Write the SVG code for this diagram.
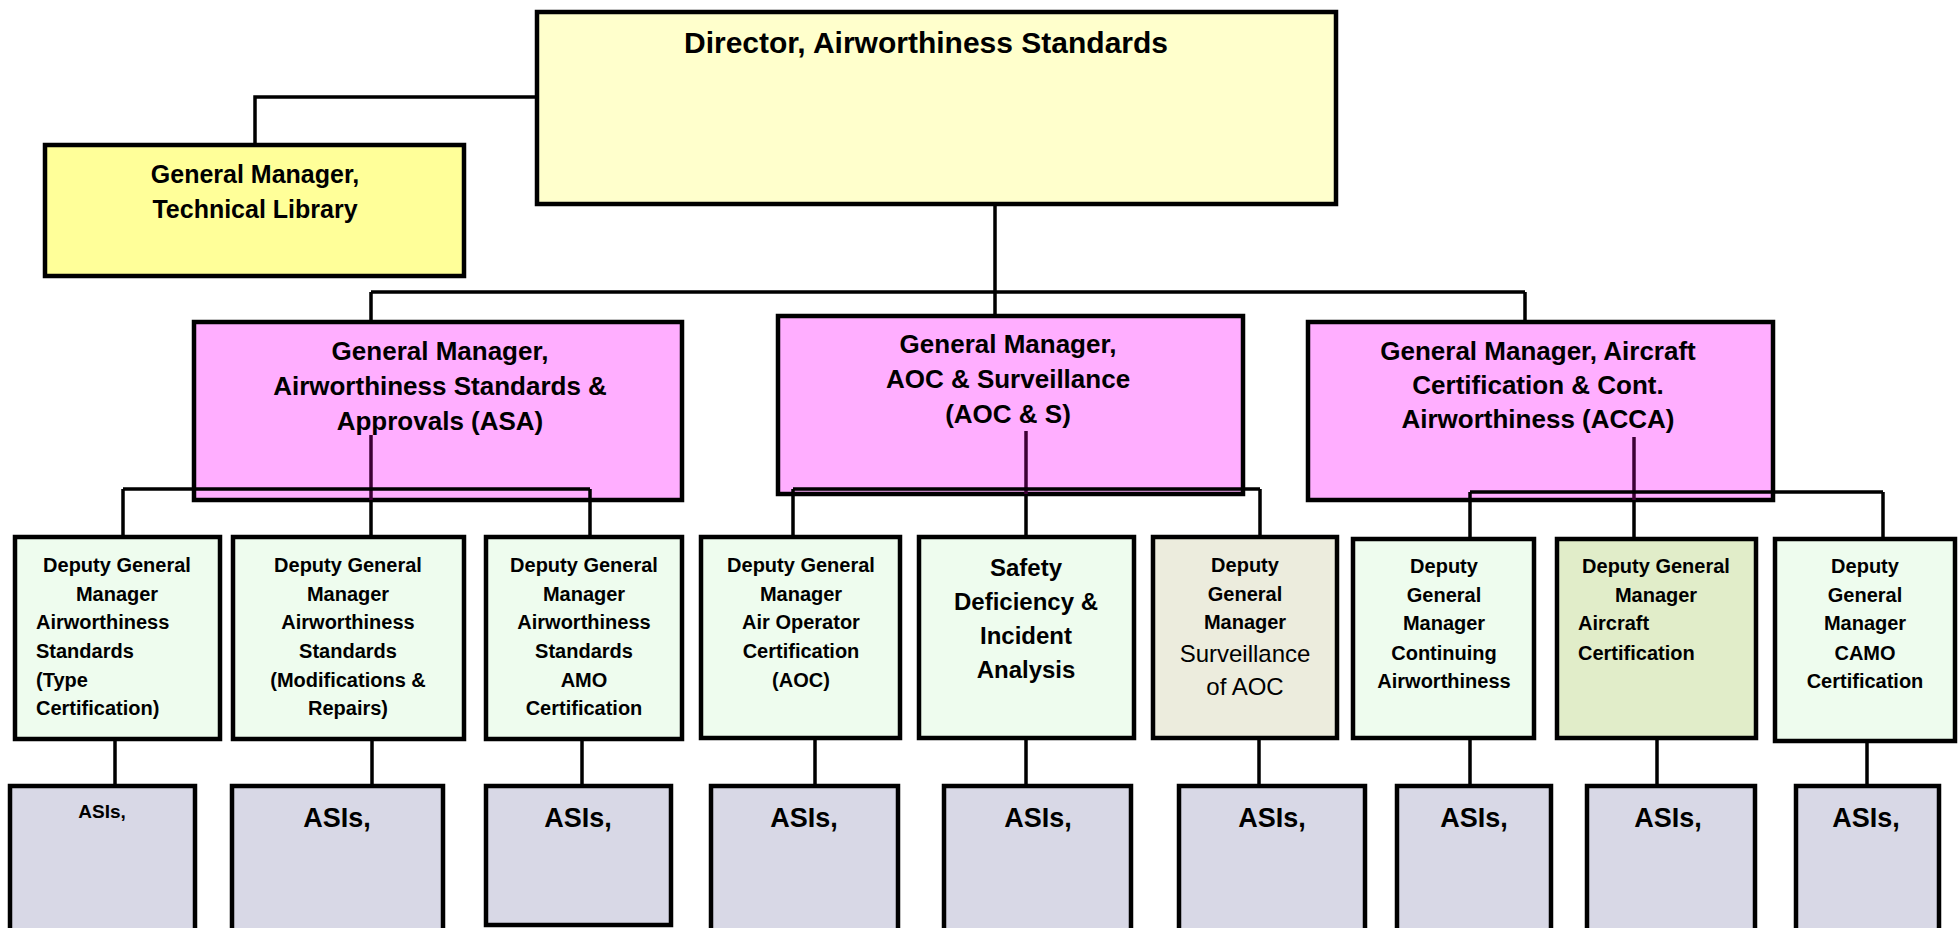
<svg xmlns="http://www.w3.org/2000/svg" width="1960" height="928" viewBox="0 0 1960 928">
<style>
text{font-family:"Liberation Sans",Arial,sans-serif;font-weight:bold;fill:#000;}
.box{stroke:#000;stroke-width:4.5;}
.dir{fill:#FFFFCC;}
.lib{fill:#FFFF99;}
.gm{fill:#FFAEFF;}
.dep{fill:#EEFCEE;}
.dep6{fill:#ECECDD;}
.dep8{fill:#E1EDC9;}
.asi{fill:#D8D8E6;}
.t25{font-size:25px;}
.t26{font-size:26px;}
.t30{font-size:30px;}
.t20{font-size:20px;}
.t24{font-size:24px;}
.t27{font-size:27px;}
.reg{font-weight:normal;font-size:24px;}
.c{text-anchor:middle;}
.ln{fill:none;stroke:#000;stroke-width:3.5;}
.pl{fill:none;stroke:#3C0034;stroke-width:3.5;}
</style>

<g id="director">
<rect class="box dir" x="537" y="12" width="799" height="192"/>
<text class="t30 c" x="926" y="53">Director, Airworthiness Standards</text>
</g>

<g id="tech-library">
<rect class="box lib" x="45" y="145" width="419" height="131"/>
<text class="t25 c" x="255" y="183">General Manager,</text>
<text class="t25 c" x="255" y="218">Technical Library</text>
</g>

<g id="gm-asa">
<rect class="box gm" x="194" y="322" width="488" height="178"/>
<text class="t26 c" x="440" y="360">General Manager,</text>
<text class="t26 c" x="440" y="395">Airworthiness Standards &amp;</text>
<text class="t26 c" x="440" y="430">Approvals (ASA)</text>
</g>

<g id="gm-aoc">
<rect class="box gm" x="778" y="316" width="465" height="178"/>
<text class="t26 c" x="1008" y="353">General Manager,</text>
<text class="t26 c" x="1008" y="388">AOC &amp; Surveillance</text>
<text class="t26 c" x="1008" y="423">(AOC &amp; S)</text>
</g>

<g id="gm-acca">
<rect class="box gm" x="1308" y="322" width="465" height="178"/>
<text class="t26 c" x="1538" y="360">General Manager, Aircraft</text>
<text class="t26 c" x="1538" y="394">Certification &amp; Cont.</text>
<text class="t26 c" x="1538" y="428">Airworthiness (ACCA)</text>
</g>

<g id="dgm-type-cert">
<rect class="box dep" x="15" y="537" width="205" height="202"/>
<text class="t20 c" x="117" y="572">Deputy General</text>
<text class="t20 c" x="117" y="601">Manager</text>
<text class="t20" x="36" y="629">Airworthiness</text>
<text class="t20" x="36" y="658">Standards</text>
<text class="t20" x="36" y="687">(Type</text>
<text class="t20" x="36" y="715">Certification)</text>
</g>

<g id="dgm-mods">
<rect class="box dep" x="233" y="537" width="231" height="202"/>
<text class="t20 c" x="348" y="572">Deputy General</text>
<text class="t20 c" x="348" y="601">Manager</text>
<text class="t20 c" x="348" y="629">Airworthiness</text>
<text class="t20 c" x="348" y="658">Standards</text>
<text class="t20 c" x="348" y="687">(Modifications &amp;</text>
<text class="t20 c" x="348" y="715">Repairs)</text>
</g>

<g id="dgm-amo">
<rect class="box dep" x="486" y="537" width="196" height="202"/>
<text class="t20 c" x="584" y="572">Deputy General</text>
<text class="t20 c" x="584" y="601">Manager</text>
<text class="t20 c" x="584" y="629">Airworthiness</text>
<text class="t20 c" x="584" y="658">Standards</text>
<text class="t20 c" x="584" y="687">AMO</text>
<text class="t20 c" x="584" y="715">Certification</text>
</g>

<g id="dgm-aoc">
<rect class="box dep" x="701" y="537" width="199" height="201"/>
<text class="t20 c" x="801" y="572">Deputy General</text>
<text class="t20 c" x="801" y="601">Manager</text>
<text class="t20 c" x="801" y="629">Air Operator</text>
<text class="t20 c" x="801" y="658">Certification</text>
<text class="t20 c" x="801" y="687">(AOC)</text>
</g>

<g id="safety-deficiency">
<rect class="box dep" x="919" y="537" width="215" height="201"/>
<text class="t24 c" x="1026" y="576">Safety</text>
<text class="t24 c" x="1026" y="610">Deficiency &amp;</text>
<text class="t24 c" x="1026" y="644">Incident</text>
<text class="t24 c" x="1026" y="678">Analysis</text>
</g>

<g id="dgm-surveillance">
<rect class="box dep6" x="1153" y="537" width="184" height="201"/>
<text class="t20 c" x="1245" y="572">Deputy</text>
<text class="t20 c" x="1245" y="601">General</text>
<text class="t20 c" x="1245" y="629">Manager</text>
<text class="reg c" x="1245" y="662">Surveillance</text>
<text class="reg c" x="1245" y="695">of AOC</text>
</g>

<g id="dgm-continuing">
<rect class="box dep" x="1353" y="539" width="181" height="199"/>
<text class="t20 c" x="1444" y="573">Deputy</text>
<text class="t20 c" x="1444" y="602">General</text>
<text class="t20 c" x="1444" y="630">Manager</text>
<text class="t20 c" x="1444" y="660">Continuing</text>
<text class="t20 c" x="1444" y="688">Airworthiness</text>
</g>

<g id="dgm-aircraft-cert">
<rect class="box dep8" x="1557" y="539" width="199" height="199"/>
<text class="t20 c" x="1656" y="573">Deputy General</text>
<text class="t20 c" x="1656" y="602">Manager</text>
<text class="t20" x="1578" y="630">Aircraft</text>
<text class="t20" x="1578" y="660">Certification</text>
</g>

<g id="dgm-camo">
<rect class="box dep" x="1775" y="539" width="180" height="202"/>
<text class="t20 c" x="1865" y="573">Deputy</text>
<text class="t20 c" x="1865" y="602">General</text>
<text class="t20 c" x="1865" y="630">Manager</text>
<text class="t20 c" x="1865" y="660">CAMO</text>
<text class="t20 c" x="1865" y="688">Certification</text>
</g>

<g id="asi-1">
<rect class="box asi" x="10" y="786" width="185" height="150"/>
<text class="c" style="font-size:19px" x="102" y="818">ASIs,</text>
</g>
<g id="asi-2">
<rect class="box asi" x="232" y="786" width="211" height="150"/>
<text class="t27 c" x="337" y="827">ASIs,</text>
</g>
<g id="asi-3">
<rect class="box asi" x="486" y="786" width="185" height="139"/>
<text class="t27 c" x="578" y="827">ASIs,</text>
</g>
<g id="asi-4">
<rect class="box asi" x="711" y="786" width="187" height="150"/>
<text class="t27 c" x="804" y="827">ASIs,</text>
</g>
<g id="asi-5">
<rect class="box asi" x="944" y="786" width="187" height="150"/>
<text class="t27 c" x="1038" y="827">ASIs,</text>
</g>
<g id="asi-6">
<rect class="box asi" x="1179" y="786" width="186" height="150"/>
<text class="t27 c" x="1272" y="827">ASIs,</text>
</g>
<g id="asi-7">
<rect class="box asi" x="1397" y="786" width="154" height="150"/>
<text class="t27 c" x="1474" y="827">ASIs,</text>
</g>
<g id="asi-8">
<rect class="box asi" x="1587" y="786" width="168" height="150"/>
<text class="t27 c" x="1668" y="827">ASIs,</text>
</g>
<g id="asi-9">
<rect class="box asi" x="1796" y="786" width="143" height="150"/>
<text class="t27 c" x="1866" y="827">ASIs,</text>
</g>

<g id="connectors">
<path class="ln" d="M535,97 H255 V143"/>
<path class="ln" d="M995,206 V292 M371,292 H1525 M371,292 V320 M995,292 V314 M1525,292 V320"/>
<path class="pl" d="M371,435 V500"/>
<path class="ln" d="M371,500 V535 M123,489 H590 M123,489 V535 M590,489 V535"/>
<path class="pl" d="M1026,431 V494"/>
<path class="ln" d="M1026,494 V535 M793,489 H1260 M793,489 V535 M1260,489 V535"/>
<path class="pl" d="M1634,437 V500"/>
<path class="ln" d="M1634,500 V537 M1470,492 H1883 M1470,492 V537 M1883,492 V537"/>
<path class="ln" d="M115,741 V784 M372,741 V784 M582,741 V784 M815,740 V784 M1026,740 V784 M1259,740 V784 M1470,740 V784 M1657,740 V784 M1867,743 V784"/>
</g>
</svg>
